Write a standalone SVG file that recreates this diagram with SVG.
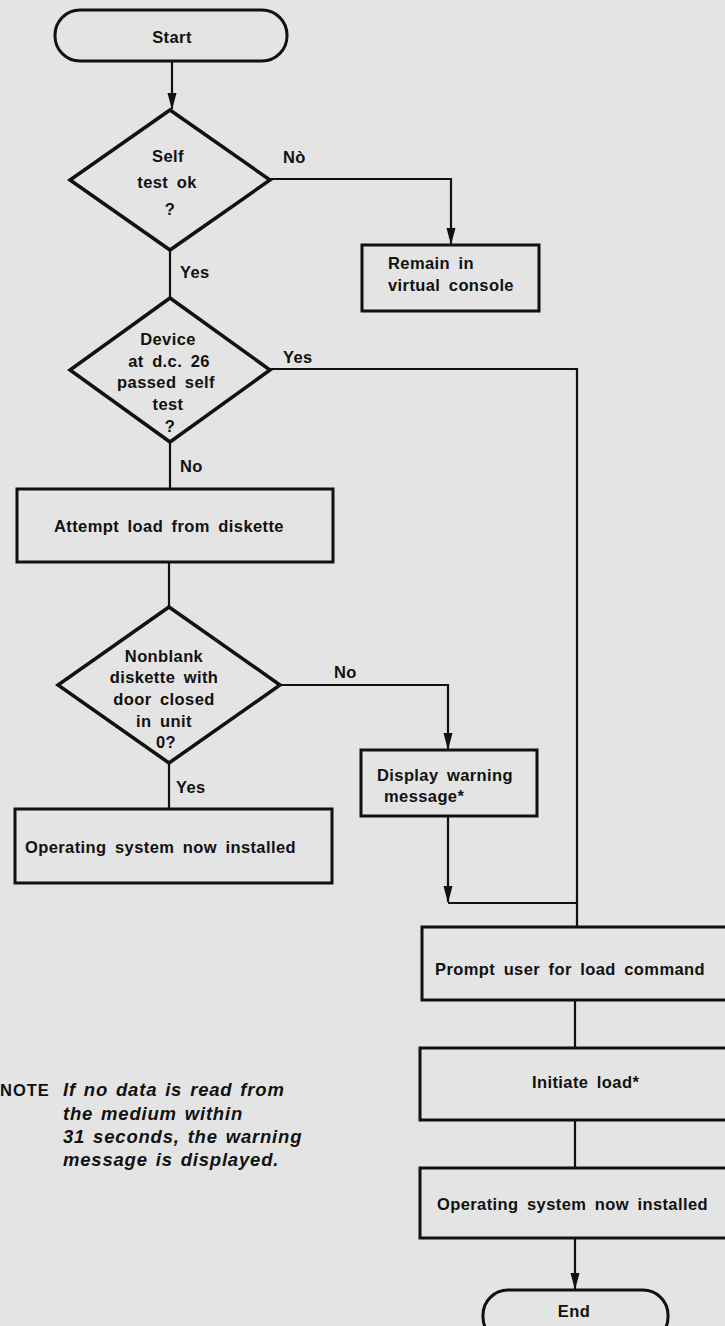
<svg xmlns="http://www.w3.org/2000/svg" width="725" height="1326" viewBox="0 0 725 1326">
<style>
.bg{fill:#e4e4e4}
.shape{fill:none;stroke:#111;stroke-width:3;stroke-linejoin:miter}
.dia{fill:none;stroke:#111;stroke-width:3.5;stroke-linejoin:miter}
.conn{fill:none;stroke:#111;stroke-width:2.2}
text{font-family:"Liberation Sans",Arial,Helvetica,sans-serif;font-weight:bold;font-size:16.5px;fill:#111;letter-spacing:0.4px;word-spacing:3.5px}
.c{text-anchor:middle}
.lbl{letter-spacing:1px}
.note{font-style:italic;font-size:18.5px;letter-spacing:0.8px;word-spacing:2px}
</style>
<defs>
<marker id="arr" markerUnits="userSpaceOnUse" markerWidth="17" markerHeight="10" refX="16" refY="5" orient="auto" viewBox="0 0 17 10">
<path d="M0,0.5 L17,5 L0,9.5 z" fill="#111"/>
</marker>
</defs>
<rect class="bg" x="0" y="0" width="725" height="1326"/>

<g id="connectors">
<path class="conn" d="M172,61 V109" marker-end="url(#arr)"/>
<path class="conn" d="M270,179 H451 V244" marker-end="url(#arr)"/>
<path class="conn" d="M170,250 V298"/>
<path class="conn" d="M270,369 H577 V927"/>
<path class="conn" d="M170,442 V489"/>
<path class="conn" d="M169,562 V607"/>
<path class="conn" d="M280,685 H448 V749" marker-end="url(#arr)"/>
<path class="conn" d="M169,763 V809"/>
<path class="conn" d="M448,816 V902" marker-end="url(#arr)"/>
<path class="conn" d="M448,903 H577"/>
<path class="conn" d="M575,1000 V1048"/>
<path class="conn" d="M575,1120 V1168"/>
<path class="conn" d="M575,1238 V1289" marker-end="url(#arr)"/>
<text x="180" y="278">Yes</text>
<text x="283" y="163">Nò</text>
<text x="283" y="363">Yes</text>
<text x="180" y="472">No</text>
<text x="334" y="678">No</text>
<text x="176" y="793">Yes</text>
</g>

<g id="start">
<rect class="shape" x="55" y="10" width="232" height="51" rx="25" ry="25"/>
<text class="c" x="172" y="43">Start</text>
</g>

<g id="selftest">
<polygon class="dia" points="170,110 270,180 170,250 70,180"/>
<text class="c" x="168" y="162">Self</text>
<text class="c" x="167" y="188">test ok</text>
<text class="c" x="170" y="215">?</text>
</g>

<g id="remain">
<rect class="shape" x="362" y="245" width="177" height="66"/>
<text x="388" y="269">Remain in</text>
<text x="388" y="291">virtual console</text>
</g>

<g id="device">
<polygon class="dia" points="170,298 270,370 170,442 70,370"/>
<text class="c" x="168" y="345">Device</text>
<text class="c" x="169" y="367">at d.c. 26</text>
<text class="c" x="166" y="388">passed self</text>
<text class="c" x="168" y="410">test</text>
<text class="c" x="170" y="432">?</text>
</g>

<g id="attempt">
<rect class="shape" x="17" y="489" width="316" height="73"/>
<text x="54" y="532">Attempt load from diskette</text>
</g>

<g id="nonblank">
<polygon class="dia" points="169,607 280,685 169,763 58,685"/>
<text class="c" x="164" y="662">Nonblank</text>
<text class="c" x="164" y="683">diskette with</text>
<text class="c" x="164" y="705">door closed</text>
<text class="c" x="164" y="727">in unit</text>
<text class="c" x="166" y="748">0?</text>
</g>

<g id="os-left">
<rect class="shape" x="15" y="809" width="317" height="74"/>
<text x="25" y="853">Operating system now installed</text>
</g>

<g id="warning">
<rect class="shape" x="361" y="750" width="176" height="66"/>
<text x="377" y="781">Display warning</text>
<text x="384" y="802">message*</text>
</g>

<g id="prompt">
<rect class="shape" x="422" y="927" width="340" height="73"/>
<text x="435" y="975">Prompt user for load command</text>
</g>

<g id="initiate">
<rect class="shape" x="420" y="1048" width="342" height="72"/>
<text x="532" y="1088">Initiate load*</text>
</g>

<g id="os-right">
<rect class="shape" x="420" y="1168" width="342" height="70"/>
<text x="437" y="1210">Operating system now installed</text>
</g>

<g id="end">
<rect class="shape" x="483" y="1290" width="185" height="52" rx="25" ry="25"/>
<text class="c" x="574" y="1317">End</text>
</g>

<g id="note">
<text class="lbl" x="0" y="1096">NOTE</text>
<text class="note" x="63" y="1096">If no data is read from</text>
<text class="note" x="63" y="1120">the medium within</text>
<text class="note" x="63" y="1143">31 seconds, the warning</text>
<text class="note" x="63" y="1166">message is displayed.</text>
</g>
</svg>
